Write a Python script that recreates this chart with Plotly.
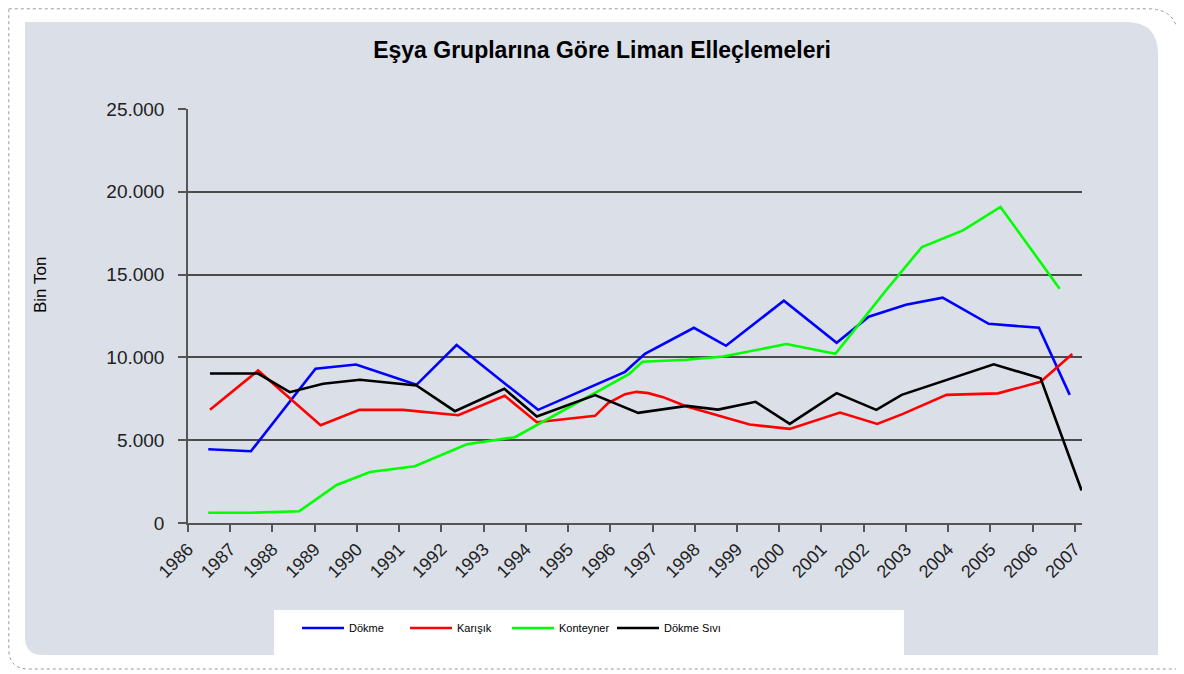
import plotly.graph_objects as go

W, H = 1184, 674
OFF = 8  # page body margin: figure is drawn 8px right/down in the window
ML, MT = 188 - OFF, 109 - OFF
MR = W - (1082 - OFF)
MB = H - (523 - OFF)

# ---- data (x in years, y in thousand tons) ----
years = list(range(1986, 2008))
year_labels = [str(y) for y in years]
y_ticks = [0, 5000, 10000, 15000, 20000, 25000]

dokme_x = [1986.48, 1987.49, 1989.02, 1989.98, 1991.41, 1992.36, 1994.29, 1996.35, 1996.82,
           1997.98, 1998.74, 2000.11, 2001.36, 2002.12, 2003.00, 2003.87, 2004.96, 2006.15, 2006.88]
dokme_y = [4456, 4335, 9311, 9571, 8343, 10744, 6832, 9129, 10218,
           11790, 10701, 13422, 10883, 12455, 13180, 13603, 12031, 11790, 7739]

karisik_x = [1986.52, 1987.66, 1989.14, 1990.06, 1991.09, 1992.40, 1993.50, 1994.26, 1995.64,
             1995.95, 1996.35, 1996.62, 1996.90, 1997.25, 1997.81, 1998.67, 1999.30, 2000.25,
             2001.44, 2002.32, 2002.93, 2003.96, 2005.18, 2006.19, 2006.94]
karisik_y = [6832, 9208, 5907, 6832, 6832, 6511, 7678, 6088, 6469,
             7237, 7781, 7920, 7842, 7600, 7032, 6427, 5943, 5683,
             6669, 5985, 6590, 7739, 7830, 8525, 10206]

konteyner_x = [1986.48, 1987.49, 1988.63, 1989.52, 1990.31, 1991.37, 1992.60, 1993.74, 1996.45,
               1996.76, 1997.81, 1998.67, 2000.17, 2001.33, 2002.54, 2003.38, 2004.35, 2005.24, 2006.64]
konteyner_y = [623, 623, 707, 2297, 3083, 3428, 4758, 5181, 9008,
               9734, 9855, 10054, 10804, 10218, 14087, 16669, 17672, 19087, 14148]

sivi_x = [1986.52, 1987.66, 1988.41, 1989.20, 1990.07, 1991.41, 1992.32, 1993.49, 1994.26,
          1995.64, 1996.66, 1997.81, 1998.55, 1999.44, 2000.25, 2001.36, 2002.30, 2002.90,
          2005.08, 2006.19, 2007.16]
sivi_y = [9027, 9027, 7902, 8404, 8646, 8301, 6753, 8102, 6427,
          7721, 6651, 7074, 6850, 7316, 5985, 7842, 6832, 7739,
          9583, 8737, 1965]

series = [
    ("Dökme", dokme_x, dokme_y, "#0000ff"),
    ("Karışık", karisik_x, karisik_y, "#ff0000"),
    ("Konteyner", konteyner_x, konteyner_y, "#00ff00"),
    ("Dökme Sıvı", sivi_x, sivi_y, "#000000"),
]
legend_starts = [302, 410, 512, 617]  # pixel x of each legend entry's line sample

PANEL = "#dbdfe7"
FONT = "Liberation Sans, Arial, sans-serif"


def fx(p):
    return (p - OFF - ML) / (W - ML - MR)


def fy(p):
    return (H - MB - (p - OFF)) / (H - MT - MB)


fig = go.Figure()
legend_layouts = {}
for i, (name, xs, ys, col) in enumerate(series):
    key = "legend" if i == 0 else f"legend{i + 1}"
    fig.add_trace(go.Scatter(x=xs, y=ys, name=name, mode="lines", legend=key,
                             line=dict(color=col, width=2.6)))
    legend_layouts[key] = dict(orientation="h", x=fx(legend_starts[i] - 5), xanchor="left",
                               y=fy(628), yanchor="middle", bgcolor="rgba(0,0,0,0)",
                               font=dict(family=FONT, size=11, color="#000000"),
                               itemwidth=42)


def rounded_path(l, t, r, b, rtr, rbl):
    return (f"M{fx(l)},{fy(t)} L{fx(r - rtr)},{fy(t)} Q{fx(r)},{fy(t)} {fx(r)},{fy(t + rtr)} "
            f"L{fx(r)},{fy(b)} L{fx(l + rbl)},{fy(b)} Q{fx(l)},{fy(b)} {fx(l)},{fy(b - rbl)} Z")


shapes = [
    dict(type="path", xref="paper", yref="paper", layer="below",
         path=rounded_path(8.8, 8.8, 1178, 669, 30, 20),
         line=dict(color="#9a9a9a", width=1, dash="dot"), fillcolor="white"),
    dict(type="path", xref="paper", yref="paper", layer="below",
         path=rounded_path(25, 22, 1158, 655, 32, 18),
         line=dict(width=0), fillcolor=PANEL),
    dict(type="rect", xref="paper", yref="paper", layer="below",
         x0=fx(274), x1=fx(904), y0=fy(655), y1=fy(610),
         line=dict(width=0), fillcolor="white"),
]

fig.update_layout(
    width=W, height=H,
    margin=dict(l=ML, r=MR, t=MT, b=MB, pad=0),
    paper_bgcolor="white",
    plot_bgcolor="rgba(0,0,0,0)",
    separators=",.",
    font=dict(family=FONT, color="#222222"),
    shapes=shapes,
    showlegend=True,
    title=dict(text="<b>Eşya Gruplarına Göre Liman Elleçlemeleri</b>",
               x=(602 - OFF) / W, xref="container", xanchor="center",
               y=1 - (50 - OFF) / H, yref="container", yanchor="middle",
               font=dict(family=FONT, size=23, color="#000000")),
    annotations=[dict(text="Bin Ton", xref="paper", yref="paper", x=fx(40), y=fy(285),
                      xanchor="center", yanchor="middle", textangle=-90, showarrow=False,
                      font=dict(family=FONT, size=17, color="#000000"))],
    **legend_layouts,
)

fig.update_xaxes(range=[1986, 2007.17], tickmode="array", tickvals=years, ticktext=year_labels,
                 tickangle=-45, ticks="outside", ticklen=7, tickcolor="#555555", tickwidth=1.5,
                 showline=True, linecolor="#555555", linewidth=1.5, showgrid=False, zeroline=False,
                 tickfont=dict(size=18, color="#222222"))
fig.update_yaxes(range=[0, 25000], tickmode="array", tickvals=y_ticks, tickformat=",d",
                 ticks="outside", ticklen=8, tickcolor="#555555", tickwidth=1.5,
                 showline=True, linecolor="#555555", linewidth=1.5,
                 showgrid=True, gridcolor="#4a4a4a", gridwidth=1.5, zeroline=False,
                 tickfont=dict(size=19, color="#222222"), ticklabelstandoff=10)

fig.write_html("out.html")
